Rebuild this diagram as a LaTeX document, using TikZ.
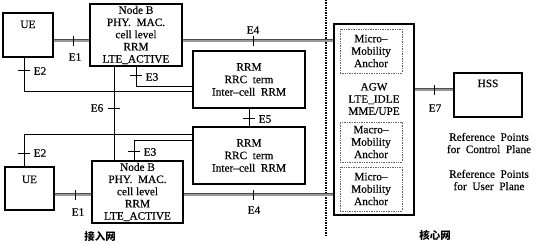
\documentclass[tikz,border=0pt]{standalone}
\usepackage{fontspec}
\setmainfont{Liberation Serif}[FakeBold=0.3]
\newfontfamily\cjk{Noto Sans CJK SC}
\begin{document}
\begin{tikzpicture}[x=1pt,y=-1pt,
 box/.style={draw, line width=1.1pt, inner sep=0pt, align=center, font=\fontsize{11.3}{12.2}\selectfont},
 dbox/.style={draw=black!60, densely dotted, line width=0.7pt, inner sep=0pt, align=center, font=\fontsize{11.3}{12.4}\selectfont},
 txt/.style={inner sep=0pt, align=center, font=\fontsize{11.3}{12.2}\selectfont},
 up/.style={draw=black!70, double=black!40, double distance=1.6pt, line width=0.7pt},
 cp/.style={draw, line width=0.8pt},
 tk/.style={draw, line width=0.7pt},
 lab/.style={font=\fontsize{11.3}{12}\selectfont, inner sep=0pt},
 sep/.style={draw, line width=1.2pt, dash pattern=on 1.2pt off 1.3pt},
]
\useasboundingbox (0,0) rectangle (540,245);
% separator
\draw[sep] (326,0) -- (326,236);
% nodes
\node[box, minimum width=50pt, minimum height=44pt, label={[lab, anchor=north, yshift=-8pt]north:UE}] (ue1) at (28,35) {};
\node[box, minimum width=49pt, minimum height=43pt, label={[lab, anchor=north, yshift=-9pt]north:UE}] (ue2) at (29.5,188.5) {};
\node[box, minimum width=92pt, minimum height=62pt] (nb1) at (136,35) {Node B\\PHY.\ \ MAC.\\cell level\\RRM\\LTE\_ACTIVE};
\node[box, minimum width=91pt, minimum height=62pt] (nb2) at (137.5,192) {Node B\\PHY.\ \ MAC.\\cell level\\RRM\\LTE\_ACTIVE};
\node[box, minimum width=112pt, minimum height=57pt, font=\fontsize{11.3}{12.5}\selectfont] (rrm1) at (249,79.5) {RRM\\RRC\ \ term\\Inter--cell\ \ RRM};
\node[box, minimum width=112pt, minimum height=57pt, font=\fontsize{11.3}{12.5}\selectfont] (rrm2) at (249,155.5) {RRM\\RRC\ \ term\\Inter--cell\ \ RRM};
\node[box, minimum width=80pt, minimum height=191pt] (agw) at (374,119.5) {};
\node[dbox, minimum width=62pt, minimum height=44pt] (mm1) at (371,51) {Micro--\\Mobility\\Anchor};
\node[txt] (agwt) at (374,99) {AGW\\LTE\_IDLE\\MME/UPE};
\node[dbox, minimum width=62pt, minimum height=40pt] (ma) at (371,142) {Macro--\\Mobility\\Anchor};
\node[dbox, minimum width=62pt, minimum height=44pt] (mm2) at (371,189) {Micro--\\Mobility\\Anchor};
\node[box, minimum width=68pt, minimum height=44pt, label={[lab, anchor=north, yshift=-7pt]north:HSS}] (hss) at (488,95) {};
% user plane links
\draw[up] (ue1.east |- 0,41) -- (nb1.west |- 0,41);
\draw[up] (ue2.east |- 0,195) -- (nb2.west |- 0,195);
\draw[up] (nb1.east |- 0,41) -- (agw.west |- 0,41);
\draw[up] (nb2.east |- 0,195) -- (agw.west |- 0,195);
\draw[up] (agw.east |- 0,90) -- (hss.west |- 0,90);
% control plane links
\draw[cp] (ue1.south -| 24,0) |- (rrm1.west |- 0,91);
\draw[cp] (nb1.south -| 136,0) |- (rrm1.west |- 0,86);
\draw[cp] (nb1.south -| 114,0) -- (nb2.north -| 114,0);
\draw[cp] (rrm1.south) -- (rrm2.north);
\draw[cp] (ue2.north -| 24,0) |- (rrm2.west |- 0,134);
\draw[cp] (nb2.north -| 134,0) |- (rrm2.west |- 0,140);
% ticks
\draw[tk] (73,36) -- (73,46);
\draw[tk] (75,190) -- (75,200);
\draw[tk] (253,36) -- (253,46);
\draw[tk] (253,190) -- (253,200);
\draw[tk] (434,85) -- (434,95);
\draw[tk] (18,70) -- (30,70);
\draw[tk] (130,75) -- (142,75);
\draw[tk] (108,108) -- (120,108);
\draw[tk] (243,118) -- (255,118);
\draw[tk] (18,153) -- (30,153);
\draw[tk] (128,151) -- (140,151);
% labels
\node[lab] (l1) at (75,57) {E1};
\node[lab] (l2) at (78,212) {E1};
\node[lab] (l3) at (40,71) {E2};
\node[lab] (l4) at (40,153) {E2};
\node[lab] (l5) at (152,77) {E3};
\node[lab] (l6) at (150,152) {E3};
\node[lab] (l7) at (253,30) {E4};
\node[lab] (l8) at (254,210) {E4};
\node[lab] (l9) at (265,119) {E5};
\node[lab] (l10) at (97,108) {E6};
\node[lab] (l11) at (435,108) {E7};
\node[txt] (rp1) at (489,143) {Reference\ \ Points\\for\ \ Control\ \ Plane};
\node[txt] (rp2) at (489,180) {Reference\ \ Points\\for\ \ User\ \ Plane};
\node[inner sep=0pt, font=\cjk\fontsize{10.5}{12}\selectfont\bfseries] (an) at (100,237) {接入网};
\node[inner sep=0pt, font=\cjk\fontsize{10.5}{12}\selectfont\bfseries] (cn) at (435,235) {核心网};
\end{tikzpicture}
\end{document}
